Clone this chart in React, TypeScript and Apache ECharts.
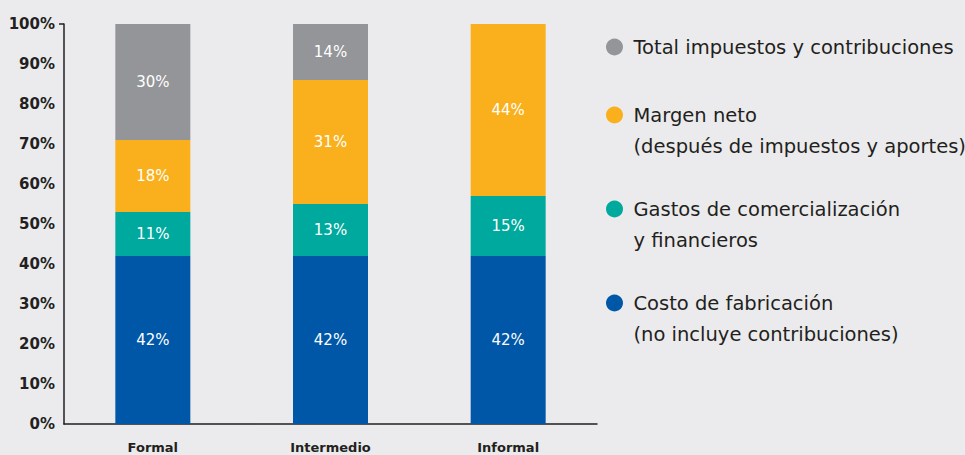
import React, { useEffect, useRef } from "react";
import * as echarts from "echarts";

const categories = ["Formal", "Intermedio", "Informal"];
const costoFabricacion = [42, 42, 42];
const gastosComercializacion = [11, 13, 15];
const margenNeto = [18, 31, 44];
const totalImpuestos = [30, 14, null];
const yTicks = [0, 10, 20, 30, 40, 50, 60, 70, 80, 90, 100];

const seriesNames = [
  "Costo de fabricación",
  "Gastos de comercialización",
  "Margen neto",
  "Total impuestos y contribuciones",
];
const secondLines: Record<string, string> = {
  "Costo de fabricación": "(no incluye contribuciones)",
  "Gastos de comercialización": "y financieros",
  "Margen neto": "(después de impuestos y aportes)",
};
const colors = ["#0057a8", "#00a99d", "#f9b01c", "#939598"];
const FONT = "'DejaVu Sans', Verdana, sans-serif";

export default function App() {
  const ref = useRef<HTMLDivElement>(null);
  useEffect(() => {
    if (!ref.current) return;
    const chart = echarts.init(ref.current, undefined, { renderer: "svg" });
    const data = [costoFabricacion, gastosComercializacion, margenNeto, totalImpuestos];
    // icon centre y for each legend entry
    const iconCentres = [303, 209, 115, 47];
    const legends = seriesNames.map((name, i) => {
      const two = !!secondLines[name];
      return {
        data: [{ name, icon: "circle" }],
        left: 606,
        top: two ? iconCentres[i] - 46.5 : iconCentres[i] - 15.5,
        itemWidth: 28,
        itemHeight: 17,
        symbolKeepAspect: true,
        itemGap: 0,
        selectedMode: false,
        padding: 0,
        formatter: (n: string) => (secondLines[n] ? "\n" + n + "\n" + secondLines[n] : n),
        textStyle: {
          fontFamily: FONT,
          fontSize: 19.5,
          color: "#231f20",
          lineHeight: 31,
        },
      };
    });
    chart.setOption({
      animation: false,
      backgroundColor: "#ebebed",
      textStyle: { fontFamily: FONT },
      legend: legends,
      grid: { left: 64, right: 368, top: 24, bottom: 31, containLabel: false },
      xAxis: {
        type: "category",
        data: categories,
        axisLine: { lineStyle: { color: "#231f20", width: 1.5 } },
        axisTick: { show: false },
        axisLabel: {
          fontFamily: FONT,
          fontWeight: "bold",
          fontSize: 13,
          color: "#231f20",
          margin: 17,
        },
      },
      yAxis: {
        type: "value",
        min: yTicks[0],
        max: yTicks[yTicks.length - 1],
        interval: 10,
        splitLine: { show: false },
        axisLine: { show: true, lineStyle: { color: "#231f20", width: 1.5 } },
        axisTick: { show: false },
        axisLabel: {
          fontFamily: FONT,
          fontWeight: "bold",
          fontSize: 15,
          color: "#231f20",
          margin: 9,
          formatter: (v: number) => v + "%",
        },
      },
      graphic: [
        {
          type: "line",
          shape: { x1: 59, y1: 24, x2: 64, y2: 24 },
          style: { stroke: "#231f20", lineWidth: 1.5 },
        },
      ],
      series: seriesNames.map((name, i) => ({
        name,
        type: "bar",
        stack: "total",
        barWidth: 75,
        clip: true,
        data: data[i],
        itemStyle: { color: colors[i] },
        label: {
          show: true,
          position: "inside",
          color: "#ffffff",
          fontFamily: FONT,
          fontSize: 15,
          formatter: (p: any) => p.value + "%",
        },
      })),
    });
    return () => chart.dispose();
  }, []);
  return <div ref={ref} style={{ width: 965, height: 455, position: "absolute", left: 0, top: 0 }} />;
}
